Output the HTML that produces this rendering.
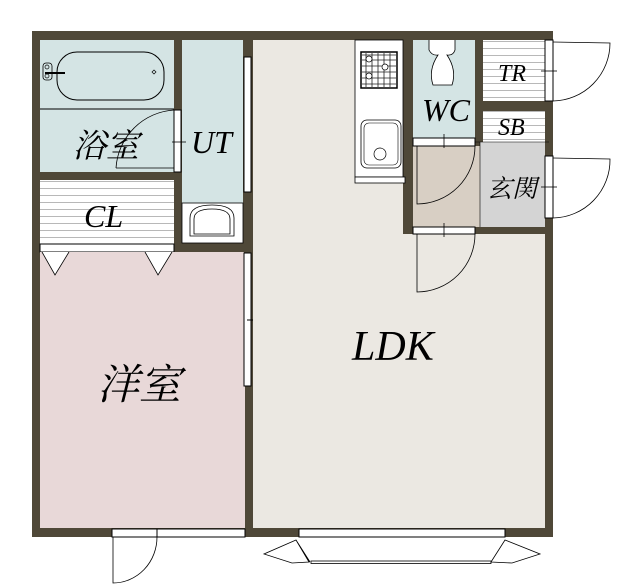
<!DOCTYPE html>
<html><head><meta charset="utf-8"><style>
html,body{margin:0;padding:0;background:#fff}
svg{display:block}
.t{font-family:"Liberation Serif","Noto Serif CJK SC",serif;font-style:italic;fill:#000}
</style></head><body>
<svg width="620" height="584" viewBox="0 0 620 584" xmlns="http://www.w3.org/2000/svg">
<defs>
<pattern id="st" width="6" height="7" patternUnits="userSpaceOnUse"><rect width="6" height="7" fill="#fff"/><line x1="0" y1="6.5" x2="6" y2="6.5" stroke="#b8b8b8" stroke-width="1"/></pattern>
</defs>
<rect x="32" y="31" width="521" height="506" fill="#4f4838"/>
<rect x="40" y="40" width="134" height="132" fill="#d4e4e4"/>
<rect x="182" y="40" width="61" height="203" fill="#d4e4e4"/>
<rect x="40" y="180" width="134" height="64" fill="url(#st)"/>
<rect x="40" y="244" width="134" height="8" fill="#fff" stroke="#000" stroke-width="1"/>
<rect x="40" y="252" width="205" height="276" fill="#e8d8d8"/>
<rect x="253" y="40" width="292" height="488" fill="#ebe8e2"/>
<rect x="403" y="40" width="10" height="194" fill="#4f4838"/>
<rect x="403" y="227" width="142" height="7" fill="#4f4838"/>
<rect x="413" y="40" width="62" height="98" fill="#d4e4e4"/>
<rect x="475" y="40" width="8" height="187" fill="#4f4838"/>
<rect x="483" y="40" width="62" height="61" fill="url(#st)"/>
<rect x="483" y="101" width="62" height="10" fill="#4f4838"/>
<rect x="483" y="111" width="62" height="31" fill="url(#st)"/>
<rect x="413" y="146" width="67" height="81" fill="#d8cfc4"/>
<rect x="480" y="142" width="65" height="85" fill="#d4d4d4"/>
<line x1="480" y1="142" x2="480" y2="227" stroke="#000" stroke-width="0.6"/>
<line x1="475" y1="142" x2="549" y2="142" stroke="#000" stroke-width="0.6"/>
<line x1="40" y1="109" x2="174" y2="109" stroke="#000" stroke-width="1"/>
<rect x="57" y="52" width="107" height="48" rx="20" fill="none" stroke="#000" stroke-width="1"/>
<rect x="43" y="63" width="9" height="17" rx="3" fill="none" stroke="#000" stroke-width="0.8"/>
<circle cx="47" cy="67" r="2" fill="none" stroke="#000" stroke-width="0.7"/>
<circle cx="47" cy="76" r="2" fill="none" stroke="#000" stroke-width="0.7"/>
<line x1="45" y1="73" x2="65" y2="73" stroke="#000" stroke-width="2"/>
<path d="M152 72 l2 -2 l2 2 l-2 2z" fill="none" stroke="#000" stroke-width="0.7"/>
<rect x="174" y="110" width="7" height="62" fill="#fff" stroke="#000" stroke-width="1"/>
<line x1="172" y1="142" x2="186" y2="142" stroke="#000" stroke-width="0.8"/>
<path d="M174 110 A62 62 0 0 0 116 168" fill="none" stroke="#000" stroke-width="0.8"/>
<line x1="116" y1="168" x2="174" y2="168" stroke="#000" stroke-width="0.8"/>
<rect x="182" y="203" width="61" height="40" fill="#fff" stroke="#000" stroke-width="0.8"/>
<path d="M190 236 L190 218 Q190 205 212 205 Q234 205 234 218 L234 236 Z" fill="none" stroke="#000" stroke-width="0.8"/>
<path d="M194 234 L194 219 Q194 209 212 209 Q230 209 230 219 L230 234 Z" fill="none" stroke="#000" stroke-width="0.8"/>
<rect x="244" y="57" width="7" height="135" fill="#fff" stroke="#000" stroke-width="1"/>
<rect x="244" y="243" width="9" height="10" fill="#4f4838"/>
<rect x="244" y="253" width="7" height="133" fill="#fff" stroke="#000" stroke-width="1"/>
<line x1="247" y1="320" x2="253" y2="320" stroke="#000" stroke-width="1"/>
<path d="M42 252 L55 275 L69 252" fill="#fff" stroke="#000" stroke-width="0.8"/>
<path d="M145 252 L158 275 L172 252" fill="#fff" stroke="#000" stroke-width="0.8"/>
<rect x="355" y="40" width="48" height="137" fill="#fff" stroke="#000" stroke-width="0.8"/>
<rect x="355" y="177" width="50" height="6" fill="#fff" stroke="#000" stroke-width="0.8"/>
<rect x="361" y="52" width="36" height="36" fill="none" stroke="#000" stroke-width="1.5"/>
<path d="M362 55h34M362 60h34M362 66h34M362 72h34M362 78h34M362 84h34M366 53v34M372 53v34M378 53v34M384 53v34M390 53v34" stroke="#222" stroke-width="0.8"/>
<circle cx="369" cy="59" r="3" fill="#fff" stroke="#000" stroke-width="0.7"/>
<circle cx="385" cy="67" r="3" fill="#fff" stroke="#000" stroke-width="0.7"/>
<circle cx="369" cy="76" r="3" fill="#fff" stroke="#000" stroke-width="0.7"/>
<rect x="361" y="120" width="40" height="48" rx="6" fill="none" stroke="#000" stroke-width="0.8"/>
<rect x="364" y="123" width="34" height="42" rx="5" fill="none" stroke="#000" stroke-width="0.6"/>
<circle cx="380" cy="154" r="6" fill="none" stroke="#000" stroke-width="0.7"/>
<path d="M429 40 L429 50 Q432 56 438 55 Q428 70 433 85 L452 85 Q457 70 447 55 Q453 56 455 50 L455 40" fill="#fff" stroke="#000" stroke-width="0.8"/>
<rect x="413" y="138" width="62" height="8" fill="#fff" stroke="#000" stroke-width="1"/>
<line x1="444" y1="134" x2="444" y2="148" stroke="#000" stroke-width="0.8"/>
<path d="M417 146 L417 204 A58 58 0 0 0 475 146" fill="none" stroke="#000" stroke-width="0.8"/>
<rect x="413" y="227" width="62" height="7" fill="#fff" stroke="#000" stroke-width="1"/>
<line x1="444" y1="223" x2="444" y2="237" stroke="#000" stroke-width="0.8"/>
<path d="M417 234 L417 292 A58 58 0 0 0 475 234" fill="none" stroke="#000" stroke-width="0.8"/>
<rect x="545" y="40" width="8" height="61" fill="#fff" stroke="#000" stroke-width="1"/>
<line x1="541" y1="71" x2="557" y2="71" stroke="#000" stroke-width="0.8"/>
<path d="M553 42 L610 43 A58 58 0 0 1 553 101" fill="none" stroke="#000" stroke-width="0.8"/>
<rect x="545" y="156" width="8" height="62" fill="#fff" stroke="#000" stroke-width="1"/>
<line x1="541" y1="187" x2="557" y2="187" stroke="#000" stroke-width="0.8"/>
<path d="M553 158 L610 159 A58 58 0 0 1 553 218" fill="none" stroke="#000" stroke-width="0.8"/>
<rect x="112" y="529" width="133" height="8" fill="#fff" stroke="#000" stroke-width="1"/>
<line x1="157" y1="529" x2="157" y2="537" stroke="#000" stroke-width="1"/>
<path d="M113 537 L113 583 A44 46 0 0 0 157 537" fill="none" stroke="#000" stroke-width="0.8"/>
<rect x="299" y="529" width="206" height="8" fill="#fff" stroke="#000" stroke-width="1"/>
<rect x="311" y="561" width="180" height="2.5" fill="#fff" stroke="#000" stroke-width="0.8"/>
<path d="M296 540 L264 554 L292 563 L309 562 Z M296 540 L310 562" fill="#fff" stroke="#000" stroke-width="0.8"/>
<path d="M505 540 L540 554 L512 563 L491 562 Z M505 540 L491 562" fill="#fff" stroke="#000" stroke-width="0.8"/>
<text class="t" x="73" y="157" font-size="33">浴室</text>
<text class="t" x="191" y="153" font-size="32">UT</text>
<text class="t" x="84" y="227" font-size="32">CL</text>
<text class="t" x="97" y="399" font-size="42">洋室</text>
<text class="t" x="352" y="360" font-size="42">LDK</text>
<text class="t" x="422" y="121" font-size="32">WC</text>
<text class="t" x="498" y="81" font-size="24">TR</text>
<text class="t" x="498" y="135" font-size="24">SB</text>
<text class="t" x="487" y="197" font-size="25">玄関</text>
</svg>
</body></html>
